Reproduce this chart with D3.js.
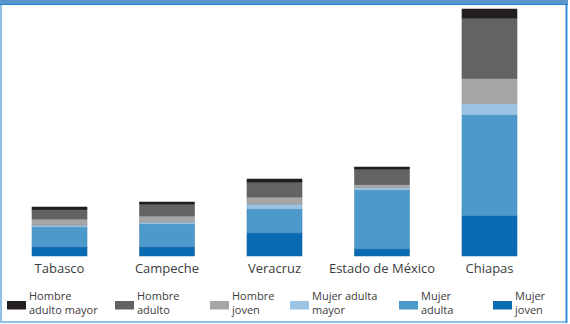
<!DOCTYPE html>
<html>
<head>
<meta charset="utf-8">
<script src="https://cdn.jsdelivr.net/npm/d3@7"></script>
<style>
  html, body { margin: 0; padding: 0; background: #fff; }
  svg { display: block; }
  text { font-family: "Open Sans", "DejaVu Sans", sans-serif; }
</style>
</head>
<body>
<div id="chart"></div>
<script>
// ---- Data ----
const states = ["Tabasco", "Campeche", "Veracruz", "Estado de México", "Chiapas"];
const mujerJoven       = [9, 9, 23, 7, 40.3];
const mujerAdulta      = [20, 23, 24, 59, 100.7];
const mujerAdultaMayor = [2, 2, 5, 2.3, 11.7];
const hombreJoven      = [6, 6, 7, 3, 25];
const hombreAdulto     = [9.3, 12, 15, 15.7, 60.3];
const hombreAdultoMayor= [2.7, 2, 3, 2, 9];
// stack order bottom -> top
const seriesKeys = ["Mujer joven", "Mujer adulta", "Mujer adulta mayor", "Hombre joven", "Hombre adulto", "Hombre adulto mayor"];
const seriesValues = [mujerJoven, mujerAdulta, mujerAdultaMayor, hombreJoven, hombreAdulto, hombreAdultoMayor];
// legend order
const legendKeys = ["Hombre adulto mayor", "Hombre adulto", "Hombre joven", "Mujer adulta mayor", "Mujer adulta", "Mujer joven"];
const legendLines = [["Hombre", "adulto mayor"], ["Hombre", "adulto"], ["Hombre", "joven"], ["Mujer adulta", "mayor"], ["Mujer", "adulta"], ["Mujer", "joven"]];

// ---- Layout / style ----
const W = 570, H = 324;
const colors = {
  "Mujer joven": "#0a6bb3",
  "Mujer adulta": "#4c99cc",
  "Mujer adulta mayor": "#9ac3e4",
  "Hombre joven": "#a6a6a6",
  "Hombre adulto": "#646363",
  "Hombre adulto mayor": "#231f20"
};
const legendX = [7, 115, 210, 290, 399, 493];

const table = states.map((s, i) => {
  const row = { state: s };
  seriesKeys.forEach((k, j) => row[k] = seriesValues[j][i]);
  return row;
});
const stacked = d3.stack().keys(seriesKeys)(table);

const svg = d3.select("#chart").append("svg").attr("width", W).attr("height", H);

// Frame
svg.append("rect").attr("x", 1).attr("y", 4).attr("width", 565.5).attr("height", 318)
  .attr("fill", "#fff").attr("stroke", "#8fbfe6").attr("stroke-width", 2);
svg.append("line").attr("x1", 566.5).attr("x2", 566.5).attr("y1", 4).attr("y2", 323)
  .attr("stroke", "#2b8be0").attr("stroke-width", 1.5);
svg.append("rect").attr("x", 0).attr("y", 0).attr("width", 568).attr("height", 4.5).attr("fill", "#5b97cc");
svg.append("line").attr("x1", 0).attr("x2", 568).attr("y1", 4.5).attr("y2", 4.5)
  .attr("stroke", "#1f7fd0").attr("stroke-width", 1);

const x = d3.scaleBand().domain(states).range([3.5, 545.5]).paddingInner(0.488).paddingOuter(0.265);
const maxTotal = d3.max(table, d => d3.sum(seriesKeys, k => d[k]));
const y = d3.scaleLinear().domain([0, maxTotal]).range([256, 9]);

svg.append("g").selectAll("g").data(stacked).join("g")
  .attr("fill", d => colors[d.key])
  .attr("stroke", d => d3.color(colors[d.key]).darker(0.35))
  .attr("stroke-width", 0.5)
  .selectAll("rect").data(d => d).join("rect")
  .attr("x", d => x(d.data.state))
  .attr("width", x.bandwidth())
  .attr("y", d => y(d[1]))
  .attr("height", d => y(d[0]) - y(d[1]));

// Category labels
const xAxis = svg.append("g").attr("transform", "translate(0,256)")
  .call(d3.axisBottom(x).tickSize(0).tickPadding(0));
xAxis.select(".domain").remove();
xAxis.selectAll("text")
  .attr("dy", null).attr("y", 17)
  .attr("font-size", 13).attr("fill", "#3c3c3c")
  .style("font-family", "'Open Sans', 'DejaVu Sans', sans-serif");

// Legend
const leg = svg.append("g").selectAll("g").data(legendKeys).join("g")
  .attr("transform", (d, i) => `translate(${legendX[i]},0)`);
leg.append("rect").attr("x", 0).attr("y", 301).attr("width", 19).attr("height", 8.5)
  .attr("fill", d => colors[d]);
leg.each(function(d, i) {
  const t = d3.select(this).append("text").attr("x", 22).attr("font-size", 11).attr("fill", "#3c3c3c");
  legendLines[i].forEach((ln, j) => {
    t.append("tspan").attr("x", 22).attr("y", 300 + j * 14).text(ln);
  });
});
</script>
</body>
</html>
